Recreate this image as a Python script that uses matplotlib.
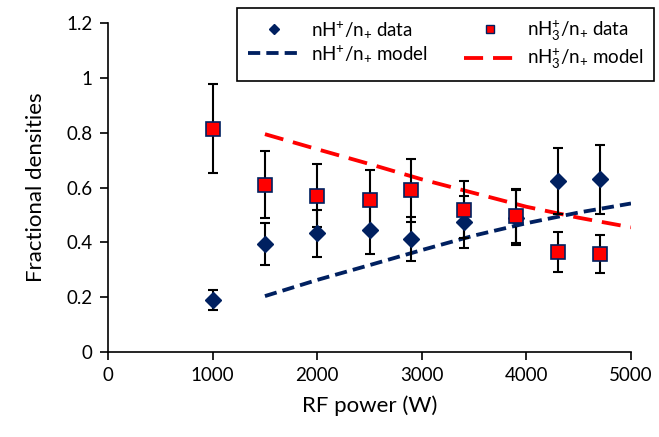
import numpy as np
import matplotlib
matplotlib.use('Agg')
import matplotlib.pyplot as plt

plt.rcParams['font.family'] = ['Lato', 'DejaVu Sans']
plt.rcParams['mathtext.fontset'] = 'custom'
plt.rcParams['mathtext.rm'] = 'Lato'
plt.rcParams['mathtext.it'] = 'Lato:italic'

# measured data
powerH = [1000, 1500, 2000, 2500, 2900, 3400, 3900, 4300, 4700]
fracH = [0.19, 0.395, 0.433, 0.445, 0.411, 0.474, 0.49, 0.624, 0.63]
errH = [0.037, 0.077, 0.085, 0.088, 0.08, 0.095, 0.1, 0.122, 0.125]

powerH3 = [1000, 1500, 2000, 2500, 2900, 3400, 3900, 4300, 4700]
fracH3 = [0.815, 0.61, 0.57, 0.554, 0.59, 0.52, 0.496, 0.366, 0.358]
errH3 = [0.163, 0.122, 0.115, 0.11, 0.115, 0.103, 0.1, 0.073, 0.07]

# model curves
powerModel = [1500, 2000, 2500, 3000, 3500, 4000, 4500, 5000]
modelH = [0.204, 0.263, 0.317, 0.372, 0.425, 0.470, 0.509, 0.542]
modelH3 = [0.795, 0.74, 0.686, 0.63, 0.58, 0.53, 0.49, 0.455]

navy = '#002060'
red = '#ff0000'

fig = plt.figure(figsize=(6.59, 4.37), dpi=100)
ax = fig.add_axes([0.164, 0.1945, 0.7935, 0.7525])

lb, = ax.plot(powerModel, modelH, color=navy, lw=2.75, dashes=(3.2, 1.6), zorder=2)
lr, = ax.plot(powerModel, modelH3, color=red, lw=2.75, dashes=(5, 2.6), zorder=2)

ax.errorbar(powerH, fracH, yerr=errH, fmt='none', ecolor='black', elinewidth=1.5,
            capsize=3.5, capthick=1.5, zorder=3)
ax.errorbar(powerH3, fracH3, yerr=errH3, fmt='none', ecolor='black', elinewidth=1.5,
            capsize=3.5, capthick=1.5, zorder=3)
md, = ax.plot(powerH, fracH, ls='none', marker='D', ms=8, color=navy, mec=navy, zorder=4)
ms, = ax.plot(powerH3, fracH3, ls='none', marker='s', ms=10, color=red, mec=navy, mew=1.2, zorder=5)

ax.set_xlim(0, 5000)
ax.set_ylim(0, 1.2)
ax.set_xticks(np.arange(0, 5001, 1000))
ax.set_yticks(np.arange(0, 1.21, 0.2))
ax.set_yticklabels(['0', '0.2', '0.4', '0.6', '0.8', '1', '1.2'])
ax.spines['top'].set_visible(False)
ax.spines['right'].set_visible(False)
for s in ['left', 'bottom']:
    ax.spines[s].set_linewidth(1.2)
ax.tick_params(direction='out', length=6, width=1.2, labelsize=13.5, pad=5)

ax.set_xlabel('RF power (W)', fontsize=16, labelpad=8)
ax.set_ylabel('Fractional densities', fontsize=16, labelpad=15)

labels = [r'$\mathregular{nH^{+}/n_{+}}$ data', r'$\mathregular{nH^{+}/n_{+}}$ model',
          r'$\mathregular{nH_3^{+}/n_{+}}$ data', r'$\mathregular{nH_3^{+}/n_{+}}$ model']
ms_leg = plt.Line2D([], [], ls='none', marker='s', ms=6, color=red, mec=navy, mew=1)
md_leg = plt.Line2D([], [], ls='none', marker='D', ms=5, color=navy)
leg = ax.legend([md_leg, lb, ms_leg, lr], labels, ncol=2, loc='upper left',
                bbox_to_anchor=(0.247, 1.046), borderaxespad=0, fontsize=13.5,
                frameon=True, fancybox=False, edgecolor='black', framealpha=1,
                handlelength=2.8, columnspacing=1.9, borderpad=0.55, labelspacing=0.2,
                handletextpad=0.6)
leg.get_frame().set_linewidth(1.2)

fig.savefig('out.png', dpi=100)
